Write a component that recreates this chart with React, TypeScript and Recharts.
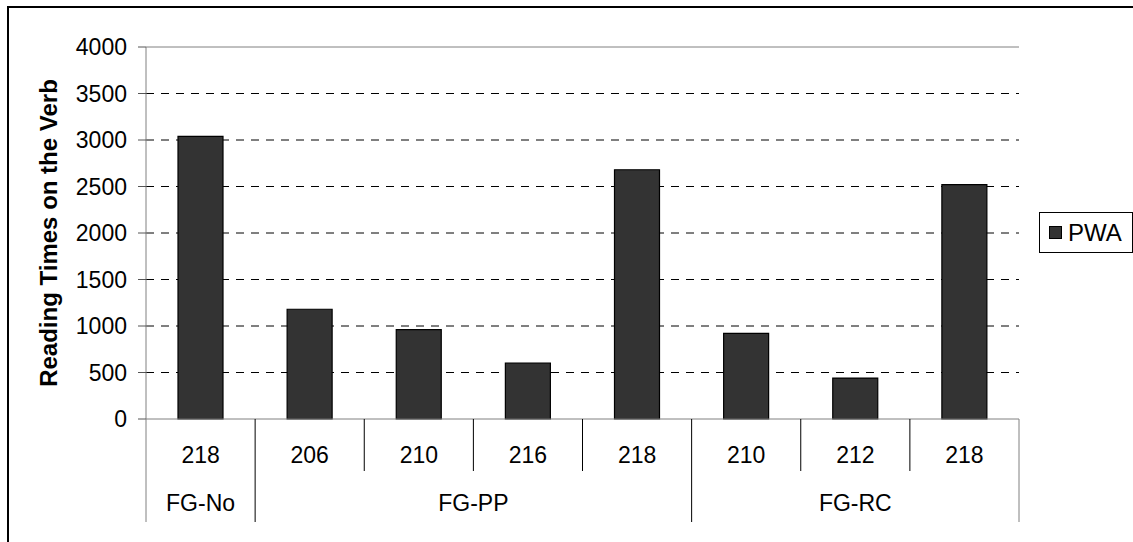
import { BarChart, Bar, XAxis, YAxis, CartesianGrid, Legend, ReferenceLine } from 'recharts';

const categories = ['218', '206', '210', '216', '218', '210', '212', '218'];
const groups = ['FG-No', 'FG-PP', 'FG-PP', 'FG-PP', 'FG-PP', 'FG-RC', 'FG-RC', 'FG-RC'];
const pwaValues = [3040, 1180, 960, 600, 2680, 920, 440, 2520];
const yTicks = [0, 500, 1000, 1500, 2000, 2500, 3000, 3500, 4000];
const gridValues = [500, 1000, 1500, 2000, 2500, 3000, 3500];

const W = 1133;
const H = 542;
const PLOT_LEFT = 146;
const PLOT_RIGHT = 1019;
const PLOT_TOP = 47;
const PLOT_BOTTOM = 419;
const BAND = (PLOT_RIGHT - PLOT_LEFT) / categories.length;
const LEGEND_W = 94;
const FONT = '"Liberation Sans", Arial, sans-serif';
const TICK_FS = 23;

const data = categories.map((c, i) => ({ idx: i, label: c, group: groups[i], PWA: pwaValues[i] }));

const AXIS_GRAY = '#808080';

// first row of category labels, short separators between categories
const CategoryTick = ({ x, index }: any) => {
  const left = x - BAND / 2;
  const isGroupStart = index === 0 || groups[index] !== groups[index - 1];
  return (
    <g>
      {!isGroupStart && (
        <line x1={left} x2={left} y1={PLOT_BOTTOM} y2={471} stroke="#000" strokeWidth={1} />
      )}
      <text x={x} y={455} textAnchor="middle" dominantBaseline="central" fontSize={TICK_FS} fill="#000" fontFamily={FONT}>
        {categories[index]}
      </text>
    </g>
  );
};

// second row: group names centred under their span, long separators
const GroupTick = ({ x, index }: any) => {
  const isGroupStart = index === 0 || groups[index] !== groups[index - 1];
  const isLast = index === groups.length - 1;
  const left = x - BAND / 2;
  let span = 1;
  while (index + span < groups.length && groups[index + span] === groups[index]) span++;
  return (
    <g>
      {isGroupStart && (
        <>
          <line x1={left} x2={left} y1={PLOT_BOTTOM} y2={522} stroke={index === 0 ? AXIS_GRAY : '#000'} strokeWidth={1} />
          <text
            x={left + (span * BAND) / 2}
            y={503}
            textAnchor="middle"
            dominantBaseline="central"
            fontSize={TICK_FS}
            fill="#000"
            fontFamily={FONT}
          >
            {groups[index]}
          </text>
        </>
      )}
      {isLast && (
        <line x1={left + BAND} x2={left + BAND} y1={PLOT_BOTTOM} y2={522} stroke={AXIS_GRAY} strokeWidth={1} />
      )}
    </g>
  );
};

const LegendBox = () => (
  <div
    style={{
      boxSizing: 'border-box',
      width: LEGEND_W,
      height: 41,
      border: '1px solid #000',
      background: '#fff',
      display: 'flex',
      alignItems: 'center',
      paddingLeft: 9,
      fontFamily: FONT,
      fontSize: 24,
      color: '#000',
    }}
  >
    <div style={{ width: 13, height: 13, background: '#333333', border: '1px solid #000', boxSizing: 'border-box' }} />
    <span style={{ marginLeft: 6 }}>PWA</span>
  </div>
);

const YLabel = () => {
  const cx = 48;
  const cy = (PLOT_TOP + PLOT_BOTTOM) / 2;
  return (
    <text
      x={cx}
      y={cy}
      transform={`rotate(-90 ${cx} ${cy})`}
      textAnchor="middle"
      dominantBaseline="central"
      fontSize={24}
      fontWeight="bold"
      fill="#000"
      fontFamily={FONT}
    >
      Reading Times on the Verb
    </text>
  );
};

export default function App() {
  return (
    <div style={{ position: 'absolute', left: 0, top: 0, width: W, height: H, overflow: 'hidden', background: '#fff' }}>
      <div
        style={{
          position: 'absolute',
          left: 7,
          top: 6,
          width: W + 20,
          height: H + 20,
          border: '2px solid #000',
        }}
      />
      <div style={{ position: 'absolute', left: 0, top: 0 }}>
        <BarChart
          width={W}
          height={H}
          data={data}
          margin={{ top: PLOT_TOP, right: W - PLOT_RIGHT - LEGEND_W, left: 0, bottom: 20 }}
          barCategoryGap={0}
        >
          <CartesianGrid vertical={false} horizontalValues={gridValues} stroke="#000" strokeDasharray="8 7" />
          <ReferenceLine y={4000} stroke={AXIS_GRAY} strokeWidth={1} />
          <XAxis
            dataKey="idx"
            xAxisId={0}
            height={52}
            tick={<CategoryTick />}
            tickLine={false}
            axisLine={{ stroke: AXIS_GRAY }}
            interval={0}
          />
          <XAxis
            dataKey="idx"
            xAxisId={1}
            height={51}
            tick={<GroupTick />}
            tickLine={false}
            axisLine={false}
            interval={0}
          />
          <YAxis
            width={PLOT_LEFT}
            domain={[0, 4000]}
            ticks={yTicks}
            tickSize={8}
            tickMargin={11}
            tick={{ fill: '#000', fontSize: TICK_FS, fontFamily: FONT }}
            tickLine={{ stroke: '#555' }}
            axisLine={{ stroke: AXIS_GRAY }}
            label={{ content: () => <YLabel /> }}
          />
          <YAxis
            yAxisId="border"
            orientation="right"
            width={0}
            domain={[0, 4000]}
            tick={false}
            tickLine={false}
            axisLine={{ stroke: AXIS_GRAY }}
          />
          <Legend
            content={() => <LegendBox />}
            layout="vertical"
            align="right"
            verticalAlign="middle"
            wrapperStyle={{ left: 1039, top: 212, right: 'auto', width: LEGEND_W }}
          />
          <Bar
            dataKey="PWA"
            xAxisId={0}
            fill="#333333"
            stroke="#000"
            strokeWidth={1.2}
            barSize={45}
            isAnimationActive={false}
          />
        </BarChart>
      </div>
    </div>
  );
}
